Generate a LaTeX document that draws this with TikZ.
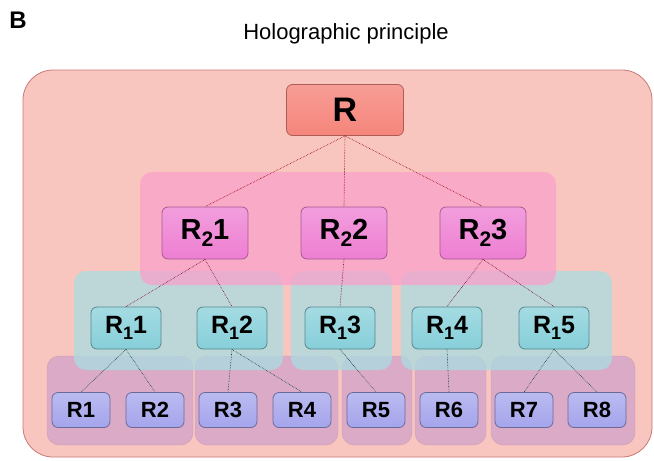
\documentclass[tikz,border=0pt]{standalone}
\usepackage{fontspec}
\setmainfont{Liberation Sans}
\usepackage{xcolor}
\usepackage{tikz}

\definecolor{outerfill}{HTML}{F9C6BF}
\definecolor{outerdraw}{HTML}{C77A78}
\definecolor{grppink}{HTML}{F9A1CB}
\definecolor{grpcyan}{HTML}{A9DDE2}
\definecolor{grppurple}{HTML}{D0A1CB}
\definecolor{toproot}{HTML}{F5857B}
\definecolor{topmid}{HTML}{EE7ED2}
\definecolor{toplow}{HTML}{86CFD9}
\definecolor{topleaf}{HTML}{A4A4EC}

\newcommand{\lvsub}[2]{\raisebox{-0.45ex}{\fontsize{#2}{#2}\selectfont #1}}

\begin{document}
\begin{tikzpicture}[x=1pt,y=-1pt,
    box/.style={rectangle,rounded corners=6pt,draw,line width=0.8pt,inner sep=0pt,font=\bfseries},
    rootbox/.style={box,draw=toproot!70!black,top color=toproot!80!white,bottom color=toproot,
      minimum width=117pt,minimum height=51pt,font=\bfseries\fontsize{34}{34}\selectfont},
    midbox/.style={box,draw=topmid!70!black,top color=topmid!75!white,bottom color=topmid,
      minimum width=86pt,minimum height=52pt,font=\bfseries\fontsize{29}{29}\selectfont},
    lowbox/.style={box,draw=toplow!65!black,top color=toplow!75!white,bottom color=toplow,
      minimum width=70pt,minimum height=42pt,font=\bfseries\fontsize{25}{25}\selectfont},
    leafbox/.style={box,draw=topleaf!65!black,top color=topleaf!75!white,bottom color=topleaf,
      minimum width=58pt,minimum height=35pt,font=\bfseries\fontsize{22}{22}\selectfont},
    grp/.style={rounded corners=12pt,fill opacity=0.75,draw opacity=0.3},
    link/.style={densely dotted,line width=0.6pt},
  ]
  \useasboundingbox (0,0) rectangle (654,461);
  \node[font=\bfseries\fontsize{24}{24}\selectfont] (panel) at (18,20) {B};
  \node[font=\fontsize{22}{22}\selectfont] (title) at (346,34) {Holographic principle};

  % nested regions
  \draw[rounded corners=30pt,fill=outerfill,draw=outerdraw,line width=0.8pt] (23,70) rectangle (652,457);
  \fill[grp,fill=grppurple,draw=grppurple!70!black] (47,356) rectangle (193,445);
  \fill[grp,fill=grppurple,draw=grppurple!70!black] (195,356) rectangle (338,445);
  \fill[grp,fill=grppurple,draw=grppurple!70!black] (342,356) rectangle (412,445);
  \fill[grp,fill=grppurple,draw=grppurple!70!black] (415,356) rectangle (486,445);
  \fill[grp,fill=grppurple,draw=grppurple!70!black] (491,356) rectangle (635,445);
  \fill[grp,fill=grpcyan] (74,271) rectangle (283,370);
  \fill[grp,fill=grpcyan] (291,271) rectangle (392,370);
  \fill[grp,fill=grpcyan] (401,271) rectangle (612,370);
  \fill[grp,fill=grppink] (140,172) rectangle (556,285);

  % nodes
  \node[rootbox] (R) at (345,110) {R};
  \node[midbox] (m1) at (205,233) {R\lvsub{2}{21}1};
  \node[midbox] (m2) at (344,233) {R\lvsub{2}{21}2};
  \node[midbox] (m3) at (483,233) {R\lvsub{2}{21}3};
  \node[lowbox] (k1) at (126,328) {R\lvsub{1}{18}1};
  \node[lowbox] (k2) at (232,328) {R\lvsub{1}{18}2};
  \node[lowbox] (k3) at (340,328) {R\lvsub{1}{18}3};
  \node[lowbox] (k4) at (447,328) {R\lvsub{1}{18}4};
  \node[lowbox] (k5) at (554,328) {R\lvsub{1}{18}5};
  \node[leafbox] (l1) at (81,410) {R1};
  \node[leafbox] (l2) at (155,410) {R2};
  \node[leafbox] (l3) at (228,410) {R3};
  \node[leafbox] (l4) at (302,410) {R4};
  \node[leafbox] (l5) at (376,410) {R5};
  \node[leafbox] (l6) at (449,410) {R6};
  \node[leafbox] (l7) at (524,410) {R7};
  \node[leafbox] (l8) at (597,410) {R8};

  % links
  \draw[link,red!55!black] (R.south) -- (m1.north);
  \draw[link,red!55!black] (R.south) -- (m2.north);
  \draw[link,red!55!black] (R.south) -- (m3.north);
  \draw[link,purple!60!black] (m1.south) -- (k1.north);
  \draw[link,purple!60!black] (m1.south) -- (k2.north);
  \draw[link,purple!60!black] (m2.south) -- (k3.north);
  \draw[link,purple!60!black] (m3.south) -- (k4.north);
  \draw[link,purple!60!black] (m3.south) -- (k5.north);
  \draw[link,teal!50!black] (k1.south) -- (l1.north);
  \draw[link,teal!50!black] (k1.south) -- (l2.north);
  \draw[link,teal!50!black] (k2.south) -- (l3.north);
  \draw[link,teal!50!black] (k2.south) -- (l4.north);
  \draw[link,teal!50!black] (k3.south) -- (l5.north);
  \draw[link,teal!50!black] (k4.south) -- (l6.north);
  \draw[link,teal!50!black] (k5.south) -- (l7.north);
  \draw[link,teal!50!black] (k5.south) -- (l8.north);
\end{tikzpicture}
\end{document}
